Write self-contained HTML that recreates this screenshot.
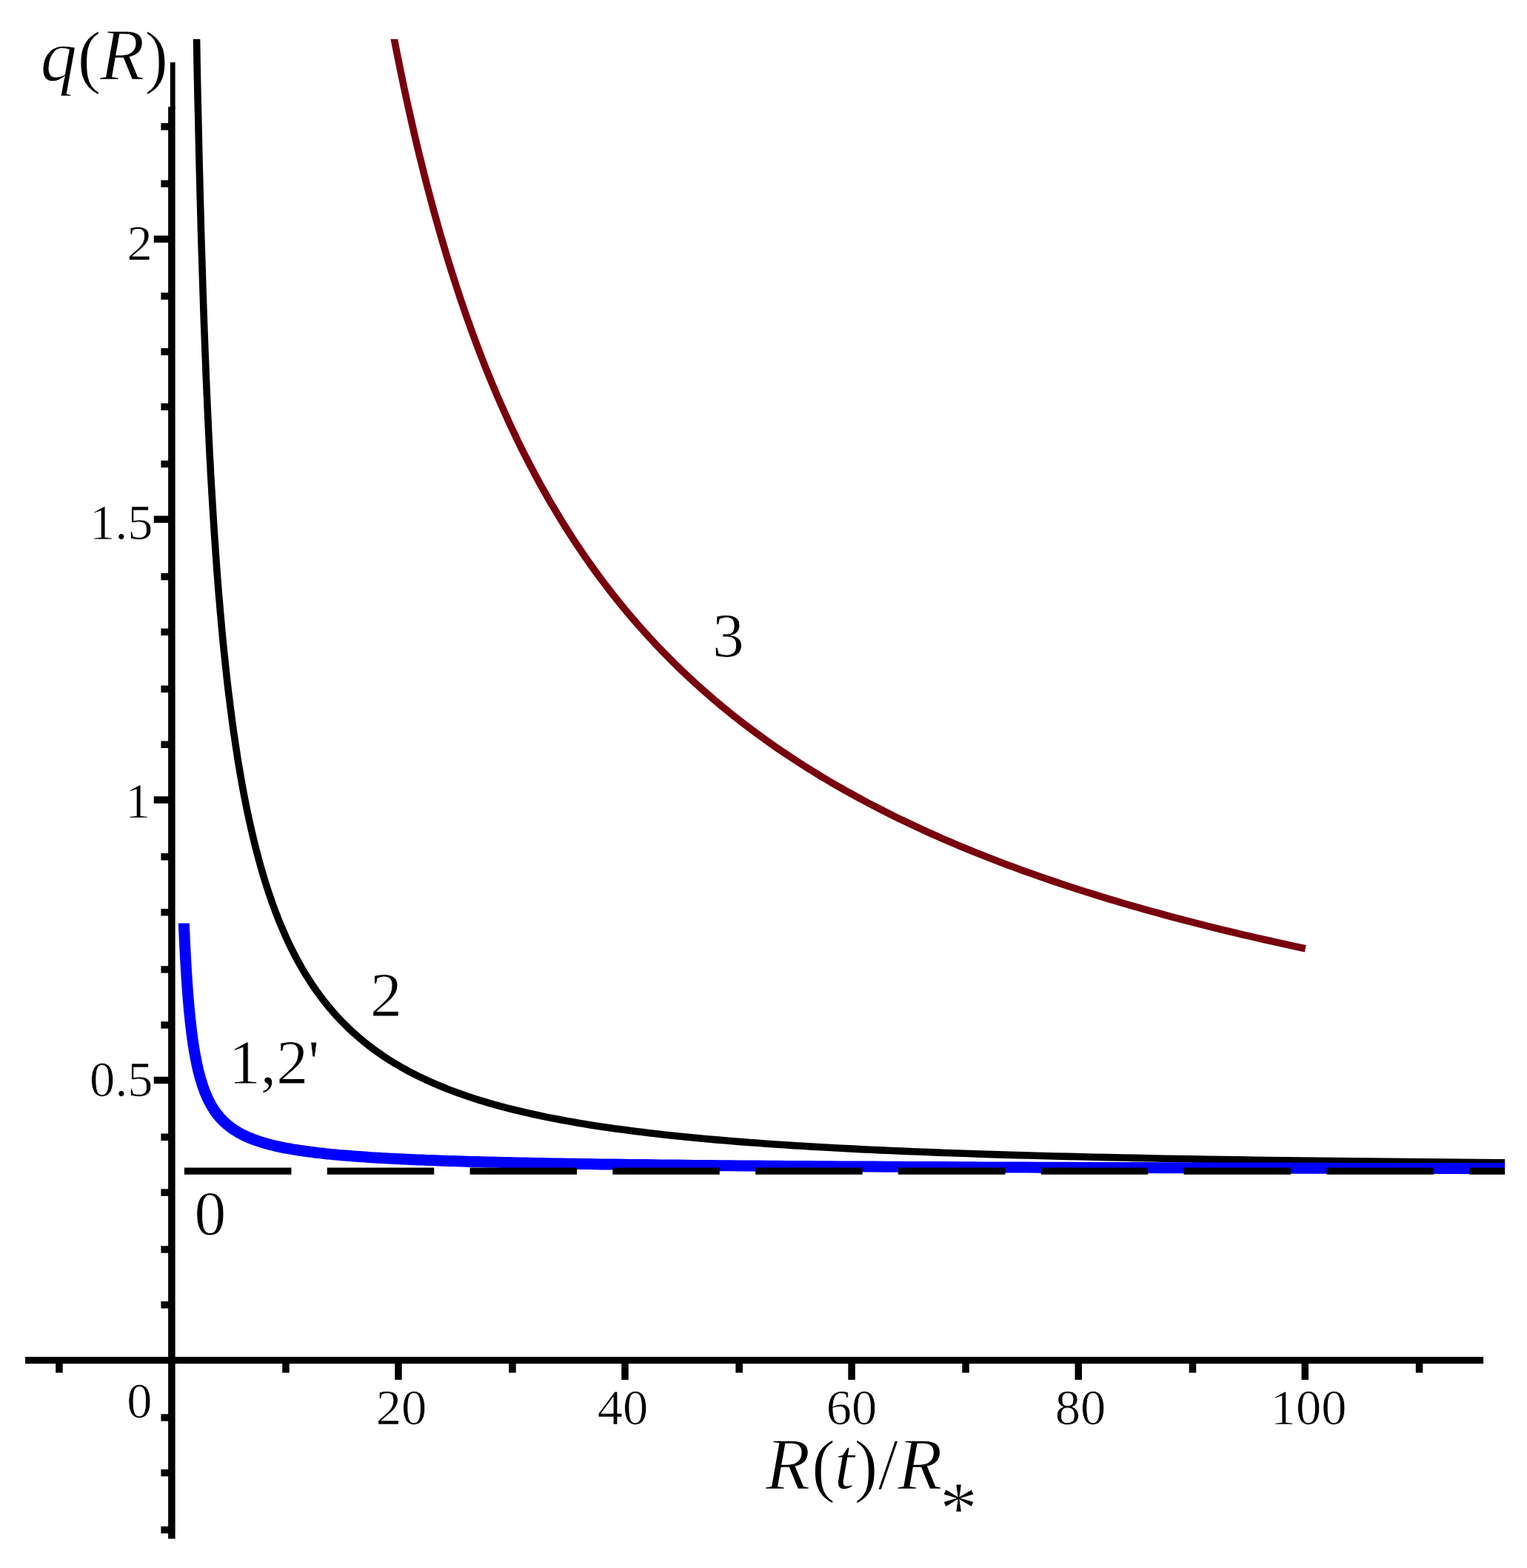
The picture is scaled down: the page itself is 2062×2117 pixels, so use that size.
<!DOCTYPE html>
<html lang="en"><head><meta charset="utf-8"><title>q(R)</title>
<style>
html,body{margin:0;padding:0;background:#fff;}
body{width:2062px;height:2117px;overflow:hidden;}
svg{display:block;filter:blur(0.7px);}
text,tspan{font-family:"Liberation Serif","DejaVu Serif",serif;fill:#000;}
.tk{font-size:68.5px;stroke:#fff;stroke-width:0.7px;}
.cl{font-size:85.5px;stroke:#fff;stroke-width:0.8px;}
.ax{font-size:99px;stroke:#fff;stroke-width:1.3px;}
.pr{font-size:96px;stroke:#fff;stroke-width:1.2px;}
.as{font-size:102px;stroke:#fff;stroke-width:1px;}
.it{font-style:italic;}
</style></head><body>
<svg width="2062" height="2117" viewBox="0 0 2062 2117">
<rect x="0" y="0" width="2062" height="2117" fill="#fff"/>
<defs><clipPath id="cp"><rect x="0" y="52.8" width="2032.1" height="2000"/></clipPath><clipPath id="cpb"><rect x="0" y="1246.5" width="2032.1" height="800"/></clipPath></defs>
<g clip-path="url(#cp)" fill="none">
<path d="M513.8,-49.7 L515.6,-39.2 L517.4,-28.7 L519.2,-18.3 L521.0,-8.0 L522.8,2.2 L524.7,12.3 L526.6,22.4 L528.4,32.4 L530.3,42.3 L532.2,52.2 L534.1,62.0 L536.0,71.7 L538.0,81.3 L539.9,90.9 L541.9,100.4 L543.8,109.9 L545.8,119.2 L547.8,128.5 L549.8,137.8 L551.8,146.9 L553.9,156.1 L555.9,165.1 L558.0,174.1 L560.0,183.0 L562.1,191.8 L564.2,200.6 L566.3,209.4 L568.5,218.0 L570.6,226.6 L572.7,235.2 L574.9,243.7 L577.1,252.1 L579.3,260.5 L581.5,268.8 L583.7,277.0 L585.9,285.2 L588.2,293.4 L590.5,301.5 L592.7,309.5 L595.0,317.5 L597.3,325.4 L599.7,333.3 L602.0,341.1 L604.3,348.8 L606.7,356.5 L609.1,364.2 L611.5,371.8 L613.9,379.3 L616.3,386.8 L618.8,394.3 L621.2,401.7 L623.7,409.0 L626.2,416.3 L628.7,423.6 L631.2,430.8 L633.8,437.9 L636.3,445.0 L638.9,452.1 L641.5,459.1 L644.1,466.1 L646.7,473.0 L649.3,479.9 L652.0,486.7 L654.6,493.5 L657.3,500.2 L660.0,506.9 L662.8,513.6 L665.5,520.2 L668.3,526.7 L671.0,533.3 L673.8,539.7 L676.6,546.2 L679.5,552.6 L682.3,558.9 L685.2,565.2 L688.0,571.5 L690.9,577.7 L693.9,583.9 L696.8,590.1 L699.7,596.2 L702.7,602.3 L705.7,608.3 L708.7,614.3 L711.8,620.2 L714.8,626.2 L717.9,632.0 L721.0,637.9 L724.1,643.7 L727.2,649.5 L730.3,655.2 L733.5,660.9 L736.7,666.5 L739.9,672.2 L743.1,677.8 L746.4,683.3 L749.7,688.8 L753.0,694.3 L756.3,699.8 L759.6,705.2 L763.0,710.6 L766.3,715.9 L769.7,721.2 L773.1,726.5 L776.6,731.8 L780.1,737.0 L783.5,742.2 L787.0,747.3 L790.6,752.5 L794.1,757.6 L797.7,762.6 L801.3,767.6 L804.9,772.6 L808.6,777.6 L812.2,782.5 L815.9,787.5 L819.6,792.3 L823.4,797.2 L827.1,802.0 L830.9,806.8 L834.7,811.5 L838.5,816.3 L842.4,821.0 L846.3,825.7 L850.2,830.3 L854.1,834.9 L858.1,839.5 L862.1,844.1 L866.1,848.6 L870.1,853.1 L874.2,857.6 L878.2,862.1 L882.4,866.5 L886.5,870.9 L890.7,875.3 L894.8,879.6 L899.1,883.9 L903.3,888.2 L907.6,892.5 L911.9,896.8 L916.2,901.0 L920.5,905.2 L924.9,909.3 L929.3,913.5 L933.8,917.6 L938.2,921.7 L942.7,925.8 L947.2,929.8 L951.8,933.9 L956.4,937.9 L961.0,941.9 L965.6,945.8 L970.3,949.7 L975.0,953.7 L979.7,957.5 L984.4,961.4 L989.2,965.3 L994.0,969.1 L998.9,972.9 L1003.8,976.7 L1008.7,980.4 L1013.6,984.1 L1018.6,987.9 L1023.6,991.5 L1028.6,995.2 L1033.7,998.9 L1038.8,1002.5 L1043.9,1006.1 L1049.1,1009.7 L1054.3,1013.2 L1059.5,1016.8 L1064.8,1020.3 L1070.1,1023.8 L1075.4,1027.3 L1080.8,1030.8 L1086.2,1034.2 L1091.6,1037.6 L1097.1,1041.0 L1102.6,1044.4 L1108.1,1047.8 L1113.7,1051.1 L1119.3,1054.5 L1124.9,1057.8 L1130.6,1061.1 L1136.3,1064.3 L1142.1,1067.6 L1147.9,1070.8 L1153.7,1074.0 L1159.6,1077.2 L1165.5,1080.4 L1171.4,1083.6 L1177.4,1086.7 L1183.4,1089.8 L1189.5,1092.9 L1195.5,1096.0 L1201.7,1099.1 L1207.8,1102.2 L1214.0,1105.2 L1220.3,1108.2 L1226.6,1111.2 L1232.9,1114.2 L1239.3,1117.2 L1245.7,1120.1 L1252.1,1123.1 L1258.6,1126.0 L1265.2,1128.9 L1271.7,1131.8 L1278.3,1134.7 L1285.0,1137.5 L1291.7,1140.4 L1298.4,1143.2 L1305.2,1146.0 L1312.0,1148.8 L1318.9,1151.6 L1325.8,1154.3 L1332.8,1157.1 L1339.8,1159.8 L1346.8,1162.5 L1353.9,1165.2 L1361.1,1167.9 L1368.3,1170.6 L1375.5,1173.2 L1382.8,1175.9 L1390.1,1178.5 L1397.4,1181.1 L1404.9,1183.7 L1412.3,1186.3 L1419.8,1188.9 L1427.4,1191.4 L1435.0,1194.0 L1442.6,1196.5 L1450.3,1199.0 L1458.1,1201.5 L1465.9,1204.0 L1473.8,1206.4 L1481.7,1208.9 L1489.6,1211.3 L1497.6,1213.8 L1505.7,1216.2 L1513.8,1218.6 L1521.9,1221.0 L1530.1,1223.4 L1538.4,1225.7 L1546.7,1228.1 L1555.1,1230.4 L1563.5,1232.7 L1571.9,1235.0 L1580.5,1237.3 L1589.0,1239.6 L1597.7,1241.9 L1606.4,1244.2 L1615.1,1246.4 L1623.9,1248.6 L1632.8,1250.9 L1641.7,1253.1 L1650.7,1255.3 L1659.7,1257.5 L1668.8,1259.6 L1677.9,1261.8 L1687.1,1263.9 L1696.4,1266.1 L1705.7,1268.2 L1715.1,1270.3 L1724.5,1272.4 L1734.0,1274.5 L1743.5,1276.6 L1753.2,1278.7 L1762.8,1280.7" stroke="#78000e" stroke-width="9.6"/>
<path d="M263.8,-43.3 L264.2,-16.2 L264.7,10.3 L265.2,36.3 L265.7,61.7 L266.1,86.5 L266.6,110.8 L267.1,134.6 L267.7,158.0 L268.2,180.8 L268.7,203.1 L269.2,225.0 L269.8,246.5 L270.3,267.5 L270.9,288.1 L271.4,308.3 L272.0,328.1 L272.6,347.5 L273.2,366.5 L273.8,385.1 L274.4,403.4 L275.0,421.4 L275.6,439.0 L276.3,456.3 L276.9,473.3 L277.6,489.9 L278.2,506.3 L278.9,522.3 L279.6,538.1 L280.3,553.6 L281.0,568.8 L281.7,583.8 L282.4,598.5 L283.1,612.9 L283.9,627.1 L284.6,641.1 L285.4,654.8 L286.2,668.3 L287.0,681.6 L287.8,694.6 L288.6,707.5 L289.4,720.1 L290.3,732.5 L291.1,744.8 L292.0,756.8 L292.8,768.7 L293.7,780.3 L294.6,791.8 L295.5,803.1 L296.5,814.3 L297.4,825.3 L298.4,836.1 L299.3,846.7 L300.3,857.2 L301.3,867.6 L302.3,877.8 L303.4,887.8 L304.4,897.7 L305.5,907.5 L306.5,917.1 L307.6,926.6 L308.7,935.9 L309.9,945.1 L311.0,954.2 L312.2,963.2 L313.3,972.0 L314.5,980.8 L315.7,989.4 L317.0,997.8 L318.2,1006.2 L319.5,1014.5 L320.7,1022.6 L322.0,1030.7 L323.4,1038.6 L324.7,1046.4 L326.0,1054.2 L327.4,1061.8 L328.8,1069.3 L330.2,1076.7 L331.7,1084.1 L333.1,1091.3 L334.6,1098.4 L336.1,1105.5 L337.7,1112.5 L339.2,1119.3 L340.8,1126.1 L342.4,1132.8 L344.0,1139.4 L345.6,1145.9 L347.3,1152.4 L349.0,1158.7 L350.7,1165.0 L352.4,1171.2 L354.2,1177.3 L356.0,1183.4 L357.8,1189.4 L359.7,1195.2 L361.5,1201.1 L363.4,1206.8 L365.4,1212.5 L367.3,1218.1 L369.3,1223.6 L371.3,1229.1 L373.4,1234.4 L375.4,1239.8 L377.5,1245.0 L379.7,1250.2 L381.9,1255.3 L384.1,1260.4 L386.3,1265.4 L388.5,1270.3 L390.8,1275.2 L393.2,1280.0 L395.5,1284.7 L397.9,1289.4 L400.4,1294.0 L402.9,1298.6 L405.4,1303.1 L407.9,1307.5 L410.5,1311.9 L413.1,1316.2 L415.8,1320.5 L418.5,1324.7 L421.2,1328.9 L424.0,1333.0 L426.8,1337.0 L429.7,1341.0 L432.6,1345.0 L435.5,1348.9 L438.5,1352.7 L441.6,1356.5 L444.6,1360.3 L447.8,1363.9 L450.9,1367.6 L454.1,1371.2 L457.4,1374.7 L460.7,1378.2 L464.1,1381.7 L467.5,1385.1 L471.0,1388.4 L474.5,1391.7 L478.0,1395.0 L481.7,1398.2 L485.3,1401.4 L489.1,1404.5 L492.8,1407.6 L496.7,1410.6 L500.6,1413.6 L504.5,1416.6 L508.5,1419.5 L512.6,1422.3 L516.7,1425.2 L520.9,1428.0 L525.1,1430.7 L529.4,1433.4 L533.8,1436.1 L538.3,1438.7 L542.8,1441.3 L547.3,1443.8 L552.0,1446.4 L556.7,1448.8 L561.5,1451.3 L566.3,1453.7 L571.2,1456.0 L576.2,1458.4 L581.3,1460.7 L586.4,1462.9 L591.6,1465.1 L596.9,1467.3 L602.3,1469.5 L607.7,1471.6 L613.3,1473.7 L618.9,1475.8 L624.6,1477.8 L630.3,1479.8 L636.2,1481.7 L642.2,1483.7 L648.2,1485.6 L654.3,1487.4 L660.5,1489.3 L666.8,1491.1 L673.2,1492.9 L679.7,1494.6 L686.3,1496.3 L693.0,1498.0 L699.8,1499.7 L706.7,1501.3 L713.7,1502.9 L720.7,1504.5 L727.9,1506.0 L735.2,1507.6 L742.6,1509.1 L750.2,1510.5 L757.8,1512.0 L765.5,1513.4 L773.4,1514.8 L781.3,1516.2 L789.4,1517.5 L797.6,1518.9 L806.0,1520.2 L814.4,1521.4 L823.0,1522.7 L831.7,1523.9 L840.5,1525.1 L849.5,1526.3 L858.6,1527.5 L867.8,1528.6 L877.1,1529.7 L886.6,1530.8 L896.3,1531.9 L906.1,1533.0 L916.0,1534.0 L926.1,1535.0 L936.3,1536.0 L946.6,1537.0 L957.2,1538.0 L967.8,1538.9 L978.7,1539.8 L989.7,1540.7 L1000.8,1541.6 L1012.1,1542.5 L1023.6,1543.3 L1035.3,1544.2 L1047.1,1545.0 L1059.1,1545.8 L1071.3,1546.6 L1083.7,1547.3 L1096.2,1548.1 L1108.9,1548.8 L1121.8,1549.5 L1134.9,1550.2 L1148.2,1550.9 L1161.7,1551.6 L1175.4,1552.3 L1189.3,1552.9 L1203.4,1553.5 L1217.7,1554.1 L1232.2,1554.7 L1247.0,1555.3 L1261.9,1555.9 L1277.1,1556.5 L1292.5,1557.0 L1308.1,1557.5 L1323.9,1558.1 L1340.0,1558.6 L1356.3,1559.1 L1372.9,1559.6 L1389.7,1560.0 L1406.7,1560.5 L1424.1,1561.0 L1441.6,1561.4 L1459.4,1561.8 L1477.5,1562.2 L1495.8,1562.6 L1514.5,1563.0 L1533.3,1563.4 L1552.5,1563.8 L1572.0,1564.2 L1591.7,1564.5 L1611.7,1564.9 L1632.0,1565.2 L1652.7,1565.5 L1673.6,1565.9 L1694.8,1566.2 L1716.4,1566.5 L1738.2,1566.8 L1760.4,1567.0 L1782.9,1567.3 L1805.8,1567.6 L1829.0,1567.9 L1852.5,1568.1 L1876.4,1568.4 L1900.6,1568.6 L1925.2,1568.8 L1950.1,1569.0 L1975.4,1569.3 L2001.1,1569.5 L2027.1,1569.7 L2053.6,1569.9" stroke="#000" stroke-width="9.6"/>
</g>
<g clip-path="url(#cpb)" fill="none">
<path d="M246.3,1190.3 L246.6,1197.7 L246.8,1205.0 L247.0,1212.1 L247.3,1219.1 L247.5,1226.0 L247.8,1232.7 L248.0,1239.2 L248.3,1245.7 L248.5,1252.0 L248.8,1258.2 L249.1,1264.2 L249.3,1270.2 L249.6,1276.0 L249.9,1281.7 L250.2,1287.2 L250.5,1292.7 L250.8,1298.1 L251.1,1303.3 L251.4,1308.5 L251.7,1313.5 L252.0,1318.5 L252.3,1323.3 L252.6,1328.1 L253.0,1332.7 L253.3,1337.3 L253.6,1341.7 L254.0,1346.1 L254.3,1350.4 L254.7,1354.6 L255.1,1358.7 L255.4,1362.8 L255.8,1366.8 L256.2,1370.6 L256.6,1374.4 L257.0,1378.2 L257.4,1381.8 L257.8,1385.4 L258.2,1389.0 L258.6,1392.4 L259.0,1395.8 L259.5,1399.1 L259.9,1402.4 L260.4,1405.5 L260.8,1408.7 L261.3,1411.7 L261.8,1414.7 L262.2,1417.7 L262.7,1420.6 L263.2,1423.4 L263.7,1426.2 L264.3,1428.9 L264.8,1431.6 L265.3,1434.2 L265.8,1436.8 L266.4,1439.3 L267.0,1441.8 L267.5,1444.2 L268.1,1446.6 L268.7,1449.0 L269.3,1451.2 L269.9,1453.5 L270.5,1455.7 L271.1,1457.9 L271.8,1460.0 L272.4,1462.1 L273.1,1464.1 L273.7,1466.1 L274.4,1468.1 L275.1,1470.0 L275.8,1471.9 L276.5,1473.8 L277.2,1475.6 L278.0,1477.4 L278.7,1479.2 L279.5,1480.9 L280.2,1482.6 L281.0,1484.2 L281.8,1485.9 L282.6,1487.5 L283.5,1489.0 L284.3,1490.6 L285.1,1492.1 L286.0,1493.6 L286.9,1495.1 L287.8,1496.5 L288.7,1497.9 L289.6,1499.3 L290.6,1500.6 L291.5,1502.0 L292.5,1503.3 L293.5,1504.6 L294.5,1505.8 L295.5,1507.1 L296.5,1508.3 L297.6,1509.5 L298.7,1510.6 L299.7,1511.8 L300.8,1512.9 L302.0,1514.0 L303.1,1515.1 L304.3,1516.2 L305.5,1517.2 L306.7,1518.3 L307.9,1519.3 L309.1,1520.3 L310.4,1521.3 L311.7,1522.2 L313.0,1523.2 L314.3,1524.1 L315.6,1525.0 L317.0,1525.9 L318.4,1526.8 L319.8,1527.7 L321.2,1528.5 L322.7,1529.4 L324.2,1530.2 L325.7,1531.0 L327.2,1531.8 L328.8,1532.6 L330.4,1533.3 L332.0,1534.1 L333.6,1534.8 L335.3,1535.6 L337.0,1536.3 L338.7,1537.0 L340.4,1537.7 L342.2,1538.3 L344.0,1539.0 L345.9,1539.7 L347.7,1540.3 L349.6,1541.0 L351.6,1541.6 L353.5,1542.2 L355.5,1542.8 L357.5,1543.4 L359.6,1544.0 L361.7,1544.6 L363.8,1545.1 L366.0,1545.7 L368.2,1546.2 L370.4,1546.8 L372.7,1547.3 L375.0,1547.8 L377.3,1548.3 L379.7,1548.8 L382.1,1549.3 L384.6,1549.8 L387.1,1550.3 L389.6,1550.7 L392.2,1551.2 L394.9,1551.7 L397.5,1552.1 L400.3,1552.5 L403.0,1553.0 L405.8,1553.4 L408.7,1553.8 L411.6,1554.2 L414.5,1554.6 L417.5,1555.0 L420.6,1555.4 L423.7,1555.8 L426.8,1556.2 L430.0,1556.6 L433.3,1556.9 L436.6,1557.3 L439.9,1557.7 L443.3,1558.0 L446.8,1558.4 L450.3,1558.7 L453.9,1559.0 L457.6,1559.4 L461.3,1559.7 L465.1,1560.0 L468.9,1560.3 L472.8,1560.6 L476.7,1560.9 L480.7,1561.2 L484.8,1561.5 L489.0,1561.8 L493.2,1562.1 L497.5,1562.4 L501.9,1562.7 L506.3,1562.9 L510.8,1563.2 L515.4,1563.5 L520.1,1563.7 L524.8,1564.0 L529.6,1564.2 L534.5,1564.5 L539.5,1564.7 L544.5,1565.0 L549.7,1565.2 L554.9,1565.5 L560.2,1565.7 L565.6,1565.9 L571.1,1566.1 L576.6,1566.4 L582.3,1566.6 L588.1,1566.8 L593.9,1567.0 L599.9,1567.2 L605.9,1567.4 L612.1,1567.6 L618.3,1567.8 L624.7,1568.0 L631.1,1568.2 L637.7,1568.4 L644.4,1568.6 L651.2,1568.7 L658.1,1568.9 L665.1,1569.1 L672.2,1569.3 L679.4,1569.4 L686.8,1569.6 L694.3,1569.8 L701.9,1569.9 L709.6,1570.1 L717.5,1570.3 L725.5,1570.4 L733.6,1570.6 L741.8,1570.7 L750.2,1570.9 L758.7,1571.0 L767.4,1571.2 L776.2,1571.3 L785.2,1571.5 L794.3,1571.6 L803.5,1571.7 L812.9,1571.9 L822.5,1572.0 L832.2,1572.1 L842.1,1572.3 L852.1,1572.4 L862.3,1572.5 L872.7,1572.6 L883.2,1572.8 L893.9,1572.9 L904.8,1573.0 L915.9,1573.1 L927.2,1573.2 L938.6,1573.4 L950.2,1573.5 L962.1,1573.6 L974.1,1573.7 L986.3,1573.8 L998.7,1573.9 L1011.3,1574.0 L1024.1,1574.1 L1037.2,1574.2 L1050.4,1574.3 L1063.9,1574.4 L1077.6,1574.5 L1091.5,1574.6 L1105.7,1574.7 L1120.0,1574.8 L1134.6,1574.9 L1149.5,1575.0 L1164.6,1575.1 L1180.0,1575.1 L1195.6,1575.2 L1211.4,1575.3 L1227.5,1575.4 L1243.9,1575.5 L1260.6,1575.6 L1277.5,1575.6 L1294.7,1575.7 L1312.2,1575.8 L1330.0,1575.9 L1348.1,1575.9 L1366.5,1576.0 L1385.1,1576.1 L1404.1,1576.2 L1423.4,1576.2 L1443.0,1576.3 L1463.0,1576.4 L1483.2,1576.4 L1503.8,1576.5 L1524.8,1576.6 L1546.0,1576.6 L1567.7,1576.7 L1589.7,1576.8 L1612.0,1576.8 L1634.7,1576.9 L1657.8,1577.0 L1681.3,1577.0 L1705.2,1577.1 L1729.4,1577.1 L1754.1,1577.2 L1779.1,1577.2 L1804.6,1577.3 L1830.5,1577.4 L1856.8,1577.4 L1883.6,1577.5 L1910.8,1577.5 L1938.4,1577.6 L1966.5,1577.6 L1995.1,1577.7 L2024.1,1577.7 L2053.6,1577.8" stroke="#0000ff" stroke-width="15"/>
</g>
<line x1="248.9" y1="1581.1" x2="2032.1" y2="1581.1" stroke="#000" stroke-width="9.4" stroke-dasharray="144.5 48.3"/>
<g fill="#000">
<rect x="229.8" y="84.2" width="6.8" height="62"/>
<rect x="227.1" y="144.3" width="9.5" height="1933.2"/>
<rect x="34.1" y="1831.9" width="1969.0" height="9.3"/>
<rect x="217.4" y="166.2" width="10.7" height="9.5"/>
<rect x="217.4" y="243.3" width="10.7" height="9.5"/>
<rect x="207.8" y="318.1" width="20.3" height="9.5"/>
<rect x="217.4" y="395.1" width="10.7" height="9.5"/>
<rect x="217.4" y="470.1" width="10.7" height="9.5"/>
<rect x="217.4" y="544.5" width="10.7" height="9.5"/>
<rect x="217.4" y="621.8" width="10.7" height="9.5"/>
<rect x="207.8" y="696.4" width="20.3" height="9.5"/>
<rect x="217.4" y="773.8" width="10.7" height="9.5"/>
<rect x="217.4" y="848.5" width="10.7" height="9.5"/>
<rect x="217.4" y="925.5" width="10.7" height="9.5"/>
<rect x="217.4" y="1000.5" width="10.7" height="9.5"/>
<rect x="207.8" y="1075.2" width="20.3" height="9.5"/>
<rect x="217.4" y="1152.0" width="10.7" height="9.5"/>
<rect x="217.4" y="1227.0" width="10.7" height="9.5"/>
<rect x="217.4" y="1304.2" width="10.7" height="9.5"/>
<rect x="217.4" y="1379.2" width="10.7" height="9.5"/>
<rect x="207.8" y="1453.7" width="20.3" height="9.5"/>
<rect x="217.4" y="1530.5" width="10.7" height="9.5"/>
<rect x="217.4" y="1605.3" width="10.7" height="9.5"/>
<rect x="217.4" y="1682.2" width="10.7" height="9.5"/>
<rect x="217.4" y="1757.0" width="10.7" height="9.5"/>
<rect x="217.4" y="1909.2" width="10.7" height="9.5"/>
<rect x="217.4" y="1983.8" width="10.7" height="9.5"/>
<rect x="217.4" y="2060.8" width="10.7" height="9.5"/>
<rect x="75.2" y="1840.2" width="9.5" height="13.2"/>
<rect x="381.2" y="1840.2" width="9.5" height="13.2"/>
<rect x="533.2" y="1840.2" width="9.5" height="22.7"/>
<rect x="687.2" y="1840.2" width="9.5" height="13.2"/>
<rect x="839.2" y="1840.2" width="9.5" height="22.7"/>
<rect x="993.4" y="1840.2" width="9.5" height="13.2"/>
<rect x="1145.3" y="1840.2" width="9.5" height="22.7"/>
<rect x="1299.3" y="1840.2" width="9.5" height="13.2"/>
<rect x="1451.5" y="1840.2" width="9.5" height="22.7"/>
<rect x="1605.7" y="1840.2" width="9.5" height="13.2"/>
<rect x="1757.5" y="1840.2" width="9.5" height="22.7"/>
<rect x="1911.8" y="1840.2" width="9.5" height="13.2"/>
</g>
<text><tspan class="ax it" x="54.5" y="109">q</tspan><tspan class="pr" x="104.5" y="108.2">(</tspan><tspan class="ax it" x="134.7" y="107.4">R</tspan><tspan class="pr" x="195.2" y="108.2">)</tspan></text>
<text class="tk" x="205.7" y="351.2" text-anchor="end">2</text>
<text class="tk" x="206.5" y="727.6" text-anchor="end">1.5</text>
<text class="tk" x="203.3" y="1104" text-anchor="end">1</text>
<text class="tk" x="206.5" y="1480.4" text-anchor="end">0.5</text>
<text class="tk" x="205.5" y="1914" text-anchor="end">0</text>
<text class="tk" x="542" y="1923" text-anchor="middle">20</text>
<text class="tk" x="841" y="1923" text-anchor="middle">40</text>
<text class="tk" x="1150" y="1923" text-anchor="middle">60</text>
<text class="tk" x="1459" y="1923" text-anchor="middle">80</text>
<text class="tk" x="1767" y="1923" text-anchor="middle">100</text>
<text class="cl" x="962" y="887">3</text>
<text class="cl" x="500" y="1371.8">2</text>
<text class="cl" x="309" y="1462.8">1,2'</text>
<text class="cl" x="262.5" y="1667">0</text>
<text><tspan class="ax it" x="1033.8" y="2009.9">R</tspan><tspan class="pr" x="1096" y="2010.4">(</tspan><tspan class="ax it" x="1126.5" y="2009.9">t</tspan><tspan class="pr" x="1153.5" y="2010.4">)</tspan><tspan class="ax" x="1185.5" y="2009.9">/</tspan><tspan class="ax it" x="1212" y="2009.9">R</tspan><tspan class="as" x="1269" y="2070.5">*</tspan></text>
</svg>
</body></html>
